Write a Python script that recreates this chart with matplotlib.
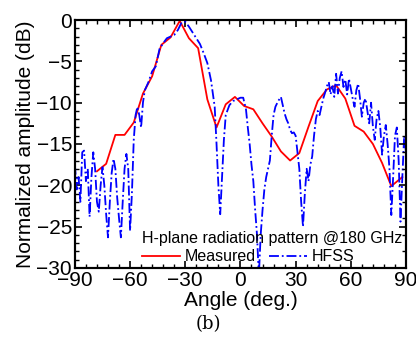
import numpy as np
import matplotlib
matplotlib.use("Agg")
import matplotlib.pyplot as plt
from matplotlib.ticker import MultipleLocator

plt.rcParams['font.family'] = ['Liberation Sans', 'DejaVu Sans']

# Measured pattern (deg, dB)
meas_angle = [-78, -73, -68, -63, -58, -53, -48, -43, -38, -33, -28, -23, -18, -13, -8, -3,
              2, 7, 12, 17, 22, 27, 32, 37, 42, 47, 52, 57, 62, 67, 72, 77, 82, 88]
meas_db = [-18.3, -17.4, -13.9, -13.9, -12.4, -8.9, -6.8, -3.0, -2.1, -0.1, -2.2, -3.4, -9.6, -13.0,
           -10.2, -9.3, -10.4, -10.8, -12.5, -14.1, -15.9, -17.0, -16.1, -12.9, -9.8, -8.4,
           -7.9, -9.5, -12.8, -13.5, -15.0, -17.3, -20.1, -19.0]

# HFSS simulation (deg, dB)
hfss_angle = [-90, -89, -88, -87, -86, -85, -84, -83, -82, -81, -80, -79, -78, -77, -76, -75,
              -74, -73, -72, -71, -70, -69, -68, -67, -66, -65, -64, -63, -62, -61, -60, -59,
              -58, -57, -56, -55, -54, -53, -52, -50, -48, -46, -44, -42, -40, -38, -36, -34,
              -32, -30, -28, -26, -24, -22, -20, -18, -16, -14, -13, -12, -11, -10, -9, -8,
              -6, -4, -2, 0, 1.5, 3, 4, 5, 6, 7, 8, 9, 10, 11, 12, 13, 14, 16, 17, 18, 19,
              20.5, 22, 23, 24, 25, 26, 27, 28, 29, 30, 31, 32, 33, 34, 35, 36, 37, 38, 39,
              40, 41, 42, 43, 44, 45, 46, 47, 48, 49, 50, 51, 52, 53, 54, 55, 56, 57, 58, 59,
              60, 61, 62, 63, 64, 65, 66, 67, 68, 69, 70, 71, 72, 73, 74, 75, 76, 77, 78, 79,
              80, 81, 82, 83, 84, 85, 86, 87, 88, 89, 90]
hfss_db = [-17.5, -20.5, -19, -22, -16, -15.8, -19.5, -18, -23.8, -19, -16, -18, -22, -23.2, -20, -17.8,
           -20, -23.5, -26.3, -22, -18.5, -16.8, -18, -21.5, -24, -26.3, -22, -18, -16.2, -18, -25.5, -21,
           -14.5, -11.5, -10.5, -11.5, -13, -10, -8.5, -7.5, -6.2, -5.6, -3.5, -2.8, -2.2, -2.0, -1.8, -1.2,
           -0.3, -0.2, -0.8, -1.5, -2.2, -2.9, -4.0, -5.2, -7.3, -10.5, -15, -20, -23.5, -19, -14.5, -11.5,
           -10.3, -9.8, -9.6, -9.4, -9.4, -10.8, -13, -15, -17.5, -19.5, -23, -26, -31, -26, -23, -20.5, -19, -17, -14, -11.5, -10.5,
           -9.8, -9.3, -10.3, -11.3, -12, -12.5, -13.3, -13.7, -13.6, -14.0, -16, -18, -22, -25, -21, -18, -19.5, -17.5, -16.5,
           -14, -12, -11, -11.5, -10.5, -9.5, -8.8, -8, -7.5, -9, -8, -9.3, -6.5, -8.9, -7, -6.2, -8.1, -7.2, -9, -7.1,
           -8.3, -9.5, -10.5, -8.5, -7.7, -9.5, -11.7, -10, -9.5, -11, -12.5, -10, -12.9, -14.5, -12, -11, -13, -16.3, -14, -12.7,
           -15, -18, -23.6, -19, -14, -13, -17, -24.4, -19, -14, -16]

fig = plt.figure(figsize=(4.16, 3.4), dpi=100)
ax = fig.add_axes([0.180, 0.212, 0.796, 0.729])

ax.plot(meas_angle, meas_db, color='#ff0000', lw=1.3, label='Measured')
ax.plot(hfss_angle, hfss_db, color='#0000ff', lw=1.3, linestyle=(0, (5.5, 1.6, 1, 1.6)), label='HFSS')

ax.set_xlim(-90, 90)
ax.set_ylim(-30, 0)
ax.xaxis.set_major_locator(MultipleLocator(30))
ax.xaxis.set_minor_locator(MultipleLocator(6))
ax.yaxis.set_major_locator(MultipleLocator(5))
ax.yaxis.set_minor_locator(MultipleLocator(1))
ax.tick_params(which='both', direction='in', top=True, right=False, labelsize=15, pad=2)
ax.tick_params(which='major', length=5, width=1.2)
ax.tick_params(which='minor', length=3, width=1.0)

# right axis has coarser minor ticks
axr = ax.twinx()
axr.set_ylim(-30, 0)
axr.yaxis.set_major_locator(MultipleLocator(5))
axr.yaxis.set_minor_locator(MultipleLocator(2))
axr.tick_params(which='both', direction='in', labelright=False)
axr.tick_params(which='major', length=5, width=1.2)
axr.tick_params(which='minor', length=3, width=1.0)

for a in (ax, axr):
    for s in a.spines.values():
        s.set_linewidth(1.5)

ax.set_xlabel('Angle (deg.)', fontsize=15, labelpad=1)
ax.set_ylabel('Normalized amplitude (dB)', fontsize=15, labelpad=1)

leg = ax.legend(title='H-plane radiation pattern @180 GHz', ncol=2, frameon=False,
                loc='lower center', bbox_to_anchor=(0.595, -0.03), fontsize=11.5,
                title_fontsize=11.5, handlelength=2.4, handletextpad=0.3,
                columnspacing=0.8, borderpad=0.2, labelspacing=0.2, alignment='left')

fig.text(0.5, 0.048, '(b)', ha='center', va='center', fontsize=13, family='DejaVu Serif')

fig.savefig('out.png', dpi=100)
